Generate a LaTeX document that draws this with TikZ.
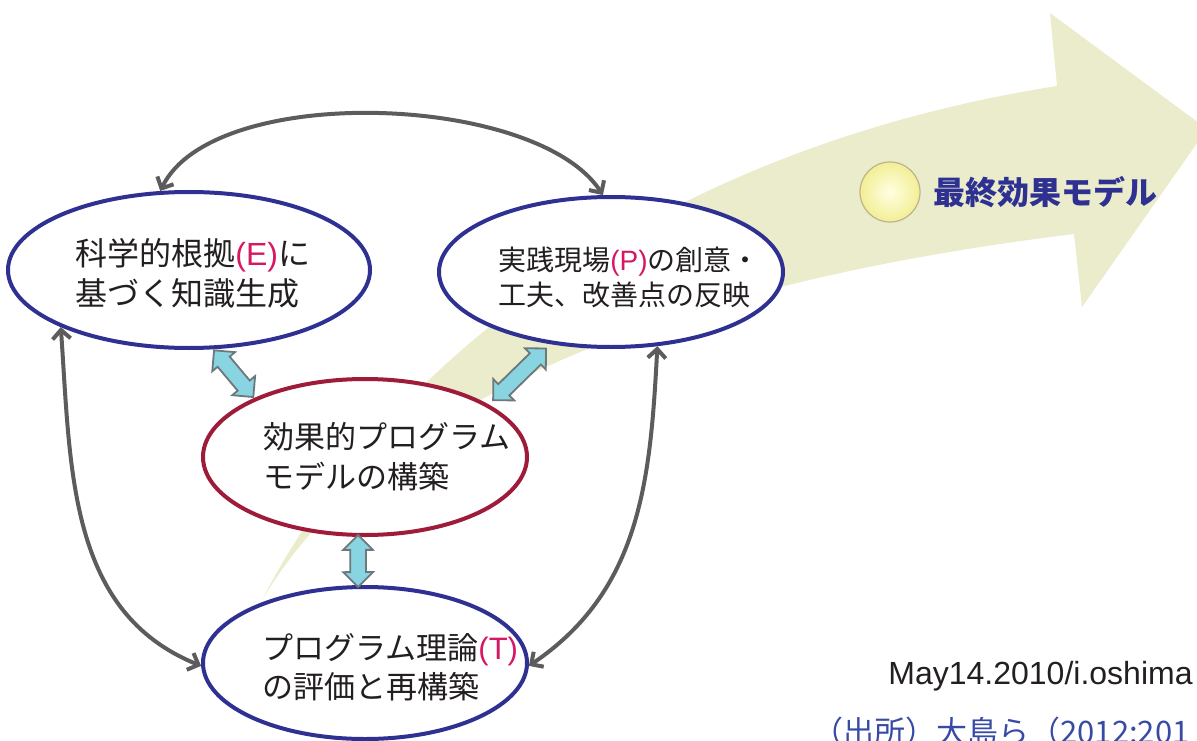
\documentclass[tikz,border=0pt]{standalone}
\usepackage{fontspec}
\usepackage{tikz}
\usepackage{xcolor}
\usetikzlibrary{positioning,shapes.geometric,shapes.arrows,arrows.meta}
\setmainfont{Noto Sans CJK JP}
\newfontfamily\latinfont{Liberation Sans}
\definecolor{topicblue}{RGB}{46,49,146}
\definecolor{corered}{RGB}{158,27,58}
\definecolor{linkgray}{RGB}{92,92,92}
\definecolor{swapblue}{RGB}{136,212,224}
\definecolor{swapedge}{RGB}{110,120,124}
\definecolor{flowfill}{RGB}{234,236,203}
\definecolor{markpink}{RGB}{214,24,100}
\definecolor{inkblack}{RGB}{35,31,32}
\definecolor{sourceblue}{RGB}{55,75,165}
\definecolor{sunlight}{RGB}{255,255,225}
\definecolor{sunglow}{RGB}{243,238,150}
\definecolor{sunedge}{RGB}{190,178,140}
\newcommand{\keyletter}[1]{{\latinfont\color{markpink}(#1)}}
\tikzset{
    topic-ellipse/.style = {draw=topicblue, fill=white, ellipse, line width=2pt, inner sep=0pt},
    core-ellipse/.style = {topic-ellipse, draw=corered},
    topic-text/.style = {text=inkblack, align=left, inner sep=0pt},
    link-arrow/.style = {draw=linkgray, line width=2pt, >={Straight Barb[length=4.5pt,width=9pt]}, <->},
    swap-arrow/.style = {double arrow, draw=swapedge, fill=swapblue, line width=0.9pt, inner xsep=0pt, inner ysep=3.5pt, double arrow head extend=3.5pt, sloped},
    goal-text/.style = {text=topicblue, inner sep=0pt, font=\bfseries\fontsize{16pt}{18pt}\selectfont},
}

\begin{document}
\begin{tikzpicture}[x=0.5pt, y=0.5pt]
\useasboundingbox (0,0) rectangle (1197,740);
\fill[flowfill] (262,140) .. controls (380,370) and (650,590) .. (1057,654) -- (1050,727) -- (1207,611)
    -- (1082,433) -- (1074,506) .. controls (620,450) and (370,320) .. cycle;
\node[circle, minimum size=30pt, inner sep=0pt, draw=sunedge, line width=0.6pt, inner color=sunlight, outer color=sunglow] (sun) at (890,548) {};
\node[goal-text, right=6pt] (goal) at (sun.east) {最終効果モデル};

\node[topic-ellipse, minimum width=181pt, minimum height=78pt] (E) at (189,470) {};
\node[topic-ellipse, minimum width=172pt, minimum height=75pt] (P) at (611,468) {};
\node[core-ellipse, minimum width=162pt, minimum height=78pt] (M) at (365,283) {};
\node[topic-ellipse, minimum width=162pt, minimum height=76pt] (T) at (365,77) {};

\node[topic-text, right=34.5pt, yshift=-1.5pt, font=\fontsize{16pt}{20pt}\selectfont] (E-text) at (E.west) {科学的根拠\keyletter{E}に\\基づく知識生成};
\node[topic-text, right=30.5pt, yshift=-2.5pt, font=\fontsize{14pt}{17.5pt}\selectfont] (P-text) at (P.west) {実践現場\keyletter{P}の創意・\\工夫、改善点の反映};
\node[topic-text, right=31pt, font=\fontsize{15.5pt}{20pt}\selectfont] (M-text) at (M.west) {効果的プログラム\\モデルの構築};
\node[topic-text, right=30.5pt, yshift=-2.25pt, font=\fontsize{15.5pt}{19.5pt}\selectfont] (T-text) at (T.west) {プログラム理論\keyletter{T}\\の評価と再構築};

\draw[link-arrow] (E.110) to[out=64, in=123, looseness=0.7] (P.96);
\draw[link-arrow] (E.204) to[out=-86, in=158] (T.181);
\draw[link-arrow] (P.-58) to[out=-93, in=34] (T.-1);

\path (E.-73) -- node[swap-arrow, minimum height=30.5pt] (EM-link) {} (M.152);
\path (P.230) -- node[swap-arrow, minimum height=37pt] (PM-link) {} (M.23);
\path (M.-95) -- node[swap-arrow, minimum height=26pt] (MT-link) {} (T.95);

\node[anchor=east, inner sep=0pt, text=inkblack, font=\latinfont\fontsize{16pt}{18pt}\selectfont] (sign) at (1193,64) {May14.2010/i.oshima};
\node[anchor=base west, inner sep=0pt, text=sourceblue, font=\fontsize{15.5pt}{18pt}\selectfont] (source) at (812,-3) {（出所）大島ら（2012:201};
\end{tikzpicture}
\end{document}
